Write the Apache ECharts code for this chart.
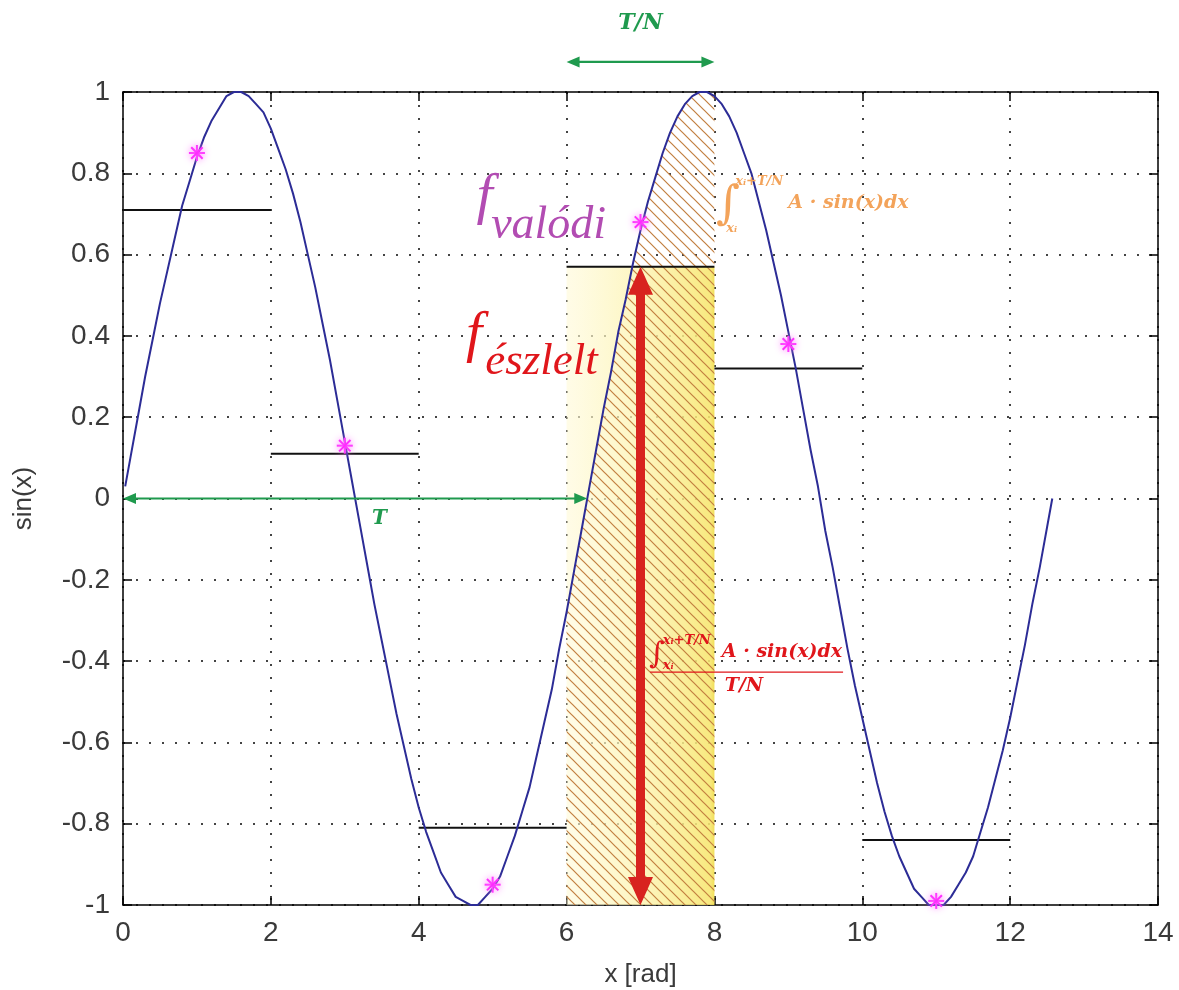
<!DOCTYPE html>
<html>
<head>
<meta charset="utf-8">
<title>sin(x) mintavételezés</title>
<script src="https://cdn.jsdelivr.net/npm/echarts@6/dist/echarts.min.js"></script>
<style>
  html, body { margin: 0; padding: 0; background: #fff; }
  #chart { width: 1179px; height: 990px; }
</style>
</head>
<body>
<div id="chart"></div>
<script>
// sin(x) görbe (leolvasott pontok, 0.1 lépés)
const curveX = [0.03, 0.1, 0.2, 0.3, 0.4, 0.5, 0.6, 0.7, 0.8, 0.9,
  1.0, 1.1, 1.2, 1.3, 1.4, 1.5, 1.6, 1.7, 1.8, 1.9,
  2.0, 2.1, 2.2, 2.3, 2.4, 2.5, 2.6, 2.7, 2.8, 2.9,
  3.0, 3.1, 3.2, 3.3, 3.4, 3.5, 3.6, 3.7, 3.8, 3.9,
  4.0, 4.1, 4.2, 4.3, 4.4, 4.5, 4.6, 4.7, 4.8, 4.9,
  5.0, 5.1, 5.2, 5.3, 5.4, 5.5, 5.6, 5.7, 5.8, 5.9,
  6.0, 6.1, 6.2, 6.3, 6.4, 6.5, 6.6, 6.7, 6.8, 6.9,
  7.0, 7.1, 7.2, 7.3, 7.4, 7.5, 7.6, 7.7, 7.8, 7.9,
  8.0, 8.1, 8.2, 8.3, 8.4, 8.5, 8.6, 8.7, 8.8, 8.9,
  9.0, 9.1, 9.2, 9.3, 9.4, 9.5, 9.6, 9.7, 9.8, 9.9,
  10.0, 10.1, 10.2, 10.3, 10.4, 10.5, 10.6, 10.7, 10.8, 10.9,
  11.0, 11.1, 11.2, 11.3, 11.4, 11.5, 11.6, 11.7, 11.8, 11.9,
  12.0, 12.1, 12.2, 12.3, 12.4, 12.5, 12.57]
const curveY = [0.03, 0.1, 0.2, 0.3, 0.39, 0.48, 0.56, 0.64, 0.72, 0.78,
  0.84, 0.89, 0.93, 0.96, 0.99, 1.0, 1.0, 0.99, 0.97, 0.95,
  0.91, 0.86, 0.81, 0.75, 0.68, 0.6, 0.52, 0.43, 0.34, 0.24,
  0.14, 0.04, -0.06, -0.16, -0.26, -0.35, -0.44, -0.53, -0.61, -0.69,
  -0.76, -0.82, -0.87, -0.92, -0.95, -0.98, -0.99, -1.0, -1.0, -0.98,
  -0.96, -0.93, -0.88, -0.83, -0.77, -0.71, -0.63, -0.55, -0.47, -0.37,
  -0.28, -0.18, -0.08, 0.02, 0.12, 0.22, 0.31, 0.41, 0.49, 0.58,
  0.66, 0.73, 0.79, 0.85, 0.9, 0.94, 0.97, 0.99, 1.0, 1.0,
  0.99, 0.97, 0.94, 0.9, 0.85, 0.8, 0.73, 0.66, 0.58, 0.5,
  0.41, 0.32, 0.22, 0.12, 0.03, -0.08, -0.17, -0.27, -0.37, -0.46,
  -0.54, -0.62, -0.7, -0.77, -0.83, -0.88, -0.92, -0.96, -0.98, -1.0,
  -1.0, -1.0, -0.98, -0.95, -0.92, -0.88, -0.82, -0.76, -0.69, -0.62,
  -0.54, -0.45, -0.36, -0.26, -0.17, -0.07, 0.0]

// mintavételi pontok (csillagok)
const sampleX = [1, 3, 5, 7, 9, 11]
const sampleY = [0.85, 0.13, -0.95, 0.68, 0.38, -0.99]

// átlagolt szakaszok (fekete vízszintes vonalak)
const segStart = [0, 2, 4, 6, 8, 10]
const segEnd = [2, 4, 6, 8, 10, 12]
const segAvg = [0.71, 0.11, -0.81, 0.57, 0.32, -0.84]

// kiemelt szakasz, periódus
const hlIndex = 3
const periodT = 6.28
const arrowRowY = 1.074

const chart = echarts.init(document.getElementById('chart'))

// ferde sraffozás mintája
function makeHatch() {
  const s = 11
  const c = document.createElement('canvas')
  c.width = s
  c.height = s
  const g = c.getContext('2d')
  g.strokeStyle = '#c27f40'
  g.lineWidth = 1.2
  g.beginPath()
  g.moveTo(-1, -1); g.lineTo(s + 1, s + 1)
  g.moveTo(s - 1, -1); g.lineTo(s + 1, 1)
  g.moveTo(-1, s - 1); g.lineTo(1, s + 1)
  g.stroke()
  return c
}

// kétfejű nyíl sokszöge
function arrowPoints(p1, p2, shaftW, headL, headW) {
  const dx = p2[0] - p1[0], dy = p2[1] - p1[1]
  const len = Math.sqrt(dx * dx + dy * dy)
  const ux = dx / len, uy = dy / len
  const nx = -uy, ny = ux
  const b1 = [p1[0] + ux * headL, p1[1] + uy * headL]
  const b2 = [p2[0] - ux * headL, p2[1] - uy * headL]
  const off = (p, w) => [p[0] + nx * w, p[1] + ny * w]
  return [
    p1, off(b1, headW / 2), off(b1, shaftW / 2), off(b2, shaftW / 2), off(b2, headW / 2),
    p2, off(b2, -headW / 2), off(b2, -shaftW / 2), off(b1, -shaftW / 2), off(b1, -headW / 2)
  ]
}

const curveData = curveX.map((x, i) => [x, curveY[i]])
const hlStart = segStart[hlIndex]
const hlEnd = segEnd[hlIndex]
const hlAvg = segAvg[hlIndex]
const hatchData = curveData.filter(p => p[0] >= hlStart && p[0] <= hlEnd)

// szövegek (adat koordinátákban)
const greenC = '#1f9a4e'
const redC = '#e0161b'
const orangeC = '#f3a35a'
const purpleC = '#b24cb2'
const mathFont = '"DejaVu Serif"'
const texts = [
  { t: 'T/N', x: 7.0, y: 1.168, font: 'italic bold 22px ' + mathFont, c: greenC, a: 'center' },
  { t: 'T', x: 3.47, y: -0.05, font: 'italic bold 20px ' + mathFont, c: greenC, a: 'center' },
  { t: 'f', x: 4.78, y: 0.74, font: 'italic 58px "Liberation Serif"', c: purpleC, a: 'left' },
  { t: 'valódi', x: 4.98, y: 0.67, font: 'italic 46px "Liberation Serif"', c: purpleC, a: 'left' },
  { t: 'f', x: 4.64, y: 0.4, font: 'italic 58px "Liberation Serif"', c: redC, a: 'left' },
  { t: 'észlelt', x: 4.9, y: 0.335, font: 'italic 45px "Liberation Serif"', c: redC, a: 'left' },
  { t: '∫', x: 8.02, y: 0.72, font: '46px ' + mathFont, c: orangeC, a: 'left' },
  { t: 'xᵢ+T/N', x: 8.28, y: 0.78, font: 'italic bold 13px ' + mathFont, c: orangeC, a: 'left' },
  { t: 'xᵢ', x: 8.16, y: 0.665, font: 'italic bold 13px ' + mathFont, c: orangeC, a: 'left' },
  { t: 'A · sin(x)dx', x: 9.0, y: 0.727, font: 'italic bold 19px ' + mathFont, c: orangeC, a: 'left' },
  { t: '∫', x: 7.12, y: -0.385, font: '30px ' + mathFont, c: redC, a: 'left' },
  { t: 'xᵢ+T/N', x: 7.3, y: -0.35, font: 'italic bold 13px ' + mathFont, c: redC, a: 'left' },
  { t: 'xᵢ', x: 7.3, y: -0.41, font: 'italic bold 13px ' + mathFont, c: redC, a: 'left' },
  { t: 'A · sin(x)dx', x: 8.1, y: -0.378, font: 'italic bold 19px ' + mathFont, c: redC, a: 'left' },
  { t: 'T/N', x: 8.4, y: -0.462, font: 'italic bold 19px ' + mathFont, c: redC, a: 'center' }
]
const fracLine = { x1: 7.13, x2: 9.74, y: -0.427 }

const tickFont = { fontSize: 28, color: '#3a3a3a', fontFamily: 'Liberation Sans' }
const gridLine = { show: true, lineStyle: { color: '#444', type: [2, 11], width: 2 } }
const tickStyle = { inside: true, length: 9, lineStyle: { color: '#000', width: 1.5 } }
const lineStyle = { lineStyle: { color: '#000', width: 1.5 }, onZero: false }

const option = {
  animation: false,
  backgroundColor: '#fff',
  grid: { left: 123, right: 21, top: 92, bottom: 85, outerBoundsMode: 'none' },
  xAxis: [
    {
      type: 'value', min: 0, max: 14, interval: 2,
      name: 'x [rad]', nameLocation: 'middle', nameGap: 57,
      nameTextStyle: { fontSize: 26, color: '#3a3a3a', fontFamily: 'Liberation Sans' },
      axisLine: lineStyle, axisTick: tickStyle,
      axisLabel: Object.assign({ margin: 14 }, tickFont),
      splitLine: gridLine
    },
    {
      type: 'value', min: 0, max: 14, interval: 2, position: 'top',
      axisLine: lineStyle, axisTick: tickStyle, axisLabel: { show: false }, splitLine: { show: false }
    }
  ],
  yAxis: [
    {
      type: 'value', min: -1, max: 1, interval: 0.2,
      name: 'sin(x)', nameLocation: 'middle', nameGap: 86,
      nameTextStyle: { fontSize: 26, color: '#3a3a3a', fontFamily: 'Liberation Sans' },
      axisLine: lineStyle, axisTick: tickStyle,
      axisLabel: Object.assign({ margin: 13 }, tickFont),
      splitLine: gridLine
    },
    {
      type: 'value', min: -1, max: 1, interval: 0.2, position: 'right',
      axisLine: lineStyle, axisTick: tickStyle, axisLabel: { show: false }, splitLine: { show: false }
    }
  ],
  series: [
    // sárga téglalap az átlag alatt
    {
      type: 'line', z: 1, symbol: 'none',
      data: [[hlStart, hlAvg], [hlEnd, hlAvg]],
      lineStyle: { width: 0 },
      areaStyle: {
        origin: 'start', opacity: 1,
        color: new echarts.graphic.LinearGradient(0, 0, 1, 0, [
          { offset: 0, color: 'rgba(255,250,215,0.6)' },
          { offset: 0.55, color: 'rgba(252,242,170,0.8)' },
          { offset: 0.97, color: 'rgba(247,230,110,0.88)' },
          { offset: 1, color: 'rgba(240,220,80,0.95)' }
        ])
      }
    },
    // sraffozott terület a görbe alatt
    {
      type: 'line', z: 2, symbol: 'none',
      data: hatchData,
      lineStyle: { width: 0 },
      areaStyle: { origin: 'start', opacity: 1, color: { image: makeHatch(), repeat: 'repeat' } }
    },
    // átlag szakaszok
    {
      type: 'custom', z: 3,
      data: segStart.map((s, i) => [s, segEnd[i], segAvg[i]]),
      renderItem(params, api) {
        const a = api.coord([api.value(0), api.value(2)])
        const b = api.coord([api.value(1), api.value(2)])
        return { type: 'line', shape: { x1: a[0], y1: a[1], x2: b[0], y2: b[1] }, style: { stroke: '#111', lineWidth: 2 } }
      }
    },
    // sin(x)
    {
      type: 'line', z: 4, symbol: 'none',
      data: curveData,
      lineStyle: { color: '#2c2c96', width: 2, join: 'round' }
    },
    // mintavételi csillagok
    {
      type: 'custom', z: 5,
      data: sampleX.map((x, i) => [x, sampleY[i]]),
      renderItem(params, api) {
        const p = api.coord([api.value(0), api.value(1)])
        const r = 8, d = 5.7
        const st = { stroke: '#ff2cff', lineWidth: 2, shadowBlur: 8, shadowColor: '#ff80ff' }
        const seg = (x1, y1, x2, y2) => ({ type: 'line', shape: { x1: p[0] + x1, y1: p[1] + y1, x2: p[0] + x2, y2: p[1] + y2 }, style: st })
        return { type: 'group', children: [seg(-r, 0, r, 0), seg(0, -r, 0, r), seg(-d, -d, d, d), seg(-d, d, d, -d)] }
      }
    },
    // jelölések: nyilak, képletek
    {
      type: 'custom', z: 6,
      data: [[0, 0]],
      renderItem(params, api) {
        const children = []
        const tL = api.coord([0, 0]), tR = api.coord([periodT, 0])
        children.push({ type: 'polygon', shape: { points: arrowPoints(tL, tR, 2.2, 13, 11) }, style: { fill: greenC } })
        const nL = api.coord([hlStart, arrowRowY]), nR = api.coord([hlEnd, arrowRowY])
        children.push({ type: 'polygon', shape: { points: arrowPoints(nL, nR, 2.2, 13, 11) }, style: { fill: greenC } })
        const rB = api.coord([sampleX[hlIndex], -1]), rT = api.coord([sampleX[hlIndex], hlAvg])
        children.push({ type: 'polygon', shape: { points: arrowPoints(rB, rT, 9, 28, 25) }, style: { fill: '#d8231f' } })
        texts.forEach(t => {
          const p = api.coord([t.x, t.y])
          children.push({ type: 'text', style: { text: t.t, x: p[0], y: p[1], font: t.font, fill: t.c, align: t.a, verticalAlign: 'middle' } })
        })
        const f1 = api.coord([fracLine.x1, fracLine.y]), f2 = api.coord([fracLine.x2, fracLine.y])
        children.push({ type: 'line', shape: { x1: f1[0], y1: f1[1], x2: f2[0], y2: f2[1] }, style: { stroke: redC, lineWidth: 1.3 } })
        return { type: 'group', children }
      }
    }
  ]
}

chart.setOption(option)
window.addEventListener('resize', () => chart.resize())
</script>
</body>
</html>
